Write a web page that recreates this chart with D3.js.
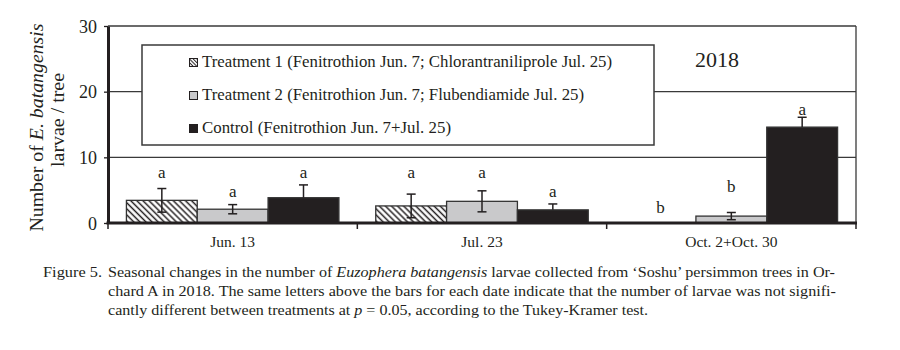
<!DOCTYPE html>
<html>
<head>
<meta charset="utf-8">
<script src="https://cdn.jsdelivr.net/npm/d3@7"></script>
<style>
  html, body { margin: 0; padding: 0; background: #fff; }
  svg { display: block; }
  text { font-family: "Liberation Serif", "DejaVu Serif", serif; fill: #231f20; }
</style>
</head>
<body>
<svg id="chart" width="900" height="350"></svg>
<script>
// ---------- data ----------
const categories = ["Jun. 13", "Jul. 23", "Oct. 2+Oct. 30"];
const seriesNames = [
  "Treatment 1 (Fenitrothion Jun. 7; Chlorantraniliprole Jul. 25)",
  "Treatment 2 (Fenitrothion Jun. 7; Flubendiamide Jul. 25)",
  "Control (Fenitrothion Jun. 7+Jul. 25)"
];
const treatment1 = [3.45, 2.6, 0];
const treatment1SE = [1.8, 1.8, 0];
const treatment2 = [2.1, 3.3, 1.05];
const treatment2SE = [0.7, 1.6, 0.55];
const control = [3.85, 2.0, 14.6];
const controlSE = [1.95, 0.9, 1.5];
const treatment1Letters = ["a", "a", "b"];
const treatment2Letters = ["a", "a", "b"];
const controlLetters = ["a", "a", "a"];
// height (in larvae/tree units) at which each letter sits
const treatment1LetterAt = [6.85, 6.85, 1.5];
const treatment2LetterAt = [3.95, 6.85, 4.7];
const controlLetterAt = [6.85, 3.95, 16.45];
const yTicks = [0, 10, 20, 30];
const yearLabel = "2018";

(function () {
const series = [
  { name: seriesNames[0], key: "t1", values: treatment1, se: treatment1SE, letters: treatment1Letters, letterAt: treatment1LetterAt },
  { name: seriesNames[1], key: "t2", values: treatment2, se: treatment2SE, letters: treatment2Letters, letterAt: treatment2LetterAt },
  { name: seriesNames[2], key: "c",  values: control,    se: controlSE,    letters: controlLetters,    letterAt: controlLetterAt }
];
const fills = { t1: "url(#hatch)", t2: "#c9c9cb", c: "#231f20" };
const legendFills = { t1: "url(#hatchSmall)", t2: "#c9c9cb", c: "#231f20" };
const ink = "#231f20";
const serif = '"Liberation Serif", "Times New Roman", serif';

const svg = d3.select("#chart").style("font-family", serif);
const pL = 108, pR = 856, pT = 26, pB = 223;

const x0 = d3.scaleBand().domain(categories).range([pL, pR]).paddingInner(0).paddingOuter(0);
const x1 = d3.scaleBand().domain(series.map(s => s.key)).range([0, x0.bandwidth()]).paddingInner(0).paddingOuter(0.26);
const y = d3.scaleLinear().domain([0, 30]).range([pB, pT]);

const defs = svg.append("defs");
function hatch(id, size, sw) {
  const p = defs.append("pattern").attr("id", id).attr("patternUnits", "userSpaceOnUse")
    .attr("width", size).attr("height", size).attr("patternTransform", "rotate(-45)");
  p.append("rect").attr("width", size).attr("height", size).attr("fill", "#fff");
  p.append("line").attr("x1", size / 2).attr("x2", size / 2).attr("y1", 0).attr("y2", size)
    .attr("stroke", ink).attr("stroke-width", sw);
}
hatch("hatch", 4.3, 1.5);
hatch("hatchSmall", 2.6, 1.0);

// gridlines
svg.append("g").selectAll("line").data(yTicks.filter(d => d > 0)).join("line")
  .attr("x1", pL).attr("x2", pR)
  .attr("y1", d => y(d)).attr("y2", d => y(d))
  .attr("stroke", "#3a3a3a").attr("stroke-width", 1.3);
svg.append("line").attr("x1", pR).attr("x2", pR).attr("y1", y(30)).attr("y2", y(0))
  .attr("stroke", "#3a3a3a").attr("stroke-width", 1.3);

// legend box
const lg = svg.append("g");
lg.append("rect").attr("x", 142).attr("y", 45).attr("width", 512).attr("height", 100)
  .attr("fill", "#fff").attr("stroke", "#3a3a3a").attr("stroke-width", 1.5);
const legendLen = [410, 382, 249];
series.forEach((s, i) => {
  const by = 67 + i * 33;
  lg.append("rect").attr("x", 189.5).attr("y", by - 8.5).attr("width", 8).attr("height", 8)
    .attr("fill", legendFills[s.key]).attr("stroke", ink).attr("stroke-width", 1);
  lg.append("text").attr("x", 202).attr("y", by).attr("font-size", 17)
    .attr("textLength", legendLen[i]).attr("lengthAdjust", "spacingAndGlyphs").text(s.name);
});

svg.append("text").attr("x", 717).attr("y", 67).attr("text-anchor", "middle")
  .attr("font-size", 22).text(yearLabel);

// bars
const groups = svg.append("g").selectAll("g").data(series).join("g");
const barData = s => categories.map((c, i) => ({ c, v: s.values[i], se: s.se[i], letter: s.letters[i], la: s.letterAt[i], key: s.key }));
groups.selectAll("rect").data(barData).join("rect")
  .attr("x", d => x0(d.c) + x1(d.key))
  .attr("width", x1.bandwidth())
  .attr("y", d => y(d.v))
  .attr("height", d => y(0) - y(d.v))
  .attr("fill", d => fills[d.key])
  .attr("stroke", d => d.v > 0 ? "#333" : "none")
  .attr("stroke-width", 1.3);

// error bars
const cx = d => x0(d.c) + x1(d.key) + x1.bandwidth() / 2;
const eb = groups.selectAll("g.eb").data(s => barData(s).filter(d => d.se > 0)).join("g").attr("class", "eb");
eb.append("line").attr("x1", cx).attr("x2", cx)
  .attr("y1", d => d.key === "c" ? y(d.v) : y(d.v - d.se)).attr("y2", d => y(d.v + d.se))
  .attr("stroke", ink).attr("stroke-width", 1.5);
eb.append("line").attr("x1", d => cx(d) - 4.5).attr("x2", d => cx(d) + 4.5)
  .attr("y1", d => y(d.v + d.se)).attr("y2", d => y(d.v + d.se)).attr("stroke", ink).attr("stroke-width", 1.5);
eb.filter(d => d.key !== "c").append("line").attr("x1", d => cx(d) - 4.5).attr("x2", d => cx(d) + 4.5)
  .attr("y1", d => y(d.v - d.se)).attr("y2", d => y(d.v - d.se)).attr("stroke", ink).attr("stroke-width", 1.5);

// letters
groups.selectAll("text").data(barData).join("text")
  .attr("x", cx).attr("y", d => y(d.la)).attr("text-anchor", "middle")
  .attr("font-size", 17).text(d => d.letter);

// y axis
const yAxis = svg.append("g").attr("transform", `translate(${pL},0)`)
  .call(d3.axisLeft(y).tickValues(yTicks).tickSize(4).tickSizeOuter(0).tickPadding(7));
yAxis.attr("font-family", serif);
yAxis.select(".domain").attr("stroke", ink).attr("stroke-width", 3);
yAxis.selectAll(".tick line").attr("stroke", ink).attr("stroke-width", 1.3);
yAxis.selectAll(".tick text").attr("font-size", 18).attr("fill", ink).attr("dy", "0.34em");

// x axis
const xAxis = svg.append("g").attr("transform", `translate(0,${pB})`)
  .call(d3.axisBottom(x0).tickSize(0).tickSizeOuter(0).tickPadding(13));
xAxis.attr("font-family", serif);
xAxis.select(".domain").attr("stroke", ink).attr("stroke-width", 3)
  .attr("d", `M${pL - 1.5},0H${pR + 1}`);
xAxis.selectAll(".tick text").attr("font-size", 15.5).attr("fill", ink);
const bounds = categories.map(c => x0(c)).concat([x0(categories[categories.length - 1]) + x0.bandwidth()]);
xAxis.selectAll("line.bt").data(bounds).join("line").attr("class", "bt")
  .attr("x1", d => d).attr("x2", d => d).attr("y1", 0).attr("y2", 6)
  .attr("stroke", ink).attr("stroke-width", 1.5);

// y title
const yt = svg.append("g");
const t1 = yt.append("text").attr("transform", "translate(43,127.5) rotate(-90)")
  .attr("text-anchor", "middle").attr("font-size", 19)
  .attr("textLength", 208).attr("lengthAdjust", "spacingAndGlyphs");
t1.append("tspan").text("Number of ");
t1.append("tspan").attr("font-style", "italic").text("E. batangensis");
yt.append("text").attr("transform", "translate(63.5,120) rotate(-90)")
  .attr("text-anchor", "middle").attr("font-size", 19)
  .attr("textLength", 94).attr("lengthAdjust", "spacingAndGlyphs").text("larvae / tree");

// caption
const cap = svg.append("g");
cap.append("text").attr("x", 43).attr("y", 277).attr("font-size", 15.5)
  .attr("textLength", 59).attr("lengthAdjust", "spacingAndGlyphs").text("Figure 5.");
const c1 = cap.append("text").attr("x", 108).attr("y", 277).attr("font-size", 15.5)
  .attr("textLength", 727).attr("lengthAdjust", "spacingAndGlyphs");
c1.append("tspan").text("Seasonal changes in the number of ");
c1.append("tspan").attr("font-style", "italic").text("Euzophera batangensis");
c1.append("tspan").text(" larvae collected from \u2018Soshu\u2019 persimmon trees in Or-");
cap.append("text").attr("x", 108).attr("y", 296).attr("font-size", 15.5)
  .attr("textLength", 728).attr("lengthAdjust", "spacingAndGlyphs")
  .text("chard A in 2018. The same letters above the bars for each date indicate that the number of  larvae was not signifi-");
const c3 = cap.append("text").attr("x", 108).attr("y", 315).attr("font-size", 15.5)
  .attr("textLength", 540).attr("lengthAdjust", "spacingAndGlyphs");
c3.append("tspan").text("cantly different between treatments at ");
c3.append("tspan").attr("font-style", "italic").text("p");
c3.append("tspan").text(" = 0.05, according to the Tukey-Kramer test.");
})();
</script>
</body>
</html>
